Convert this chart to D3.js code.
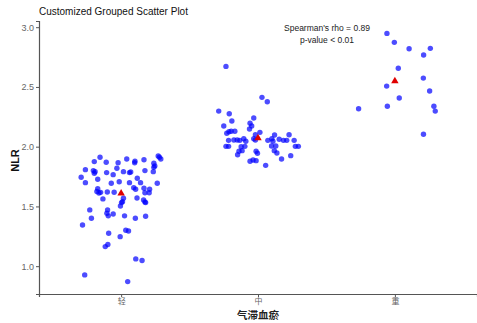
<!DOCTYPE html>
<html>
<head>
<meta charset="utf-8">
<script src="https://cdn.jsdelivr.net/npm/d3@7"></script>
<style>
body { margin: 0; background: #fff; }
svg { display: block; font-family: "Liberation Sans", Arial, sans-serif; }
</style>
</head>
<body>
<div id="chart"></div>
<script>
var width = 477
var height = 323
var margin = {top: 21, right: 0, bottom: 29, left: 39}

var categories = ['轻', '中', '重']
var y_ticks = [1.0, 1.5, 2.0, 2.5, 3.0]

// jitter offset (in category units) and NLR value
var jitter_light = [-0.154,-0.292,-0.261,-0.261,-0.196,-0.203,-0.196,-0.190,-0.171,-0.171,-0.177,-0.162,-0.150,-0.133,-0.109,-0.106,-0.101,-0.072,-0.058,-0.051,-0.031,-0.022,-0.014,0.017,0.041,0.061,0.070,0.061,0.099,0.101,0.092,0.106,0.118,0.142,0.167,0.174,0.167,0.174,0.208,0.205,0.239,0.246,0.239,0.235,0.271,0.280,0.290,0.264,0.116,0.164,0.174,0.179,0.017,0.003,-0.005,-0.099,-0.058,-0.094,-0.229,-0.217,-0.282,0.025,0.104,0.179,0.034,0.054,-0.091,-0.007,-0.116,-0.097,0.107,0.153,-0.266,0.048,-0.104,0.010]
var nlr_light = [1.911,1.744,1.808,1.699,1.875,1.800,1.778,1.790,1.728,1.649,1.625,1.612,1.618,1.563,1.870,1.783,1.621,1.694,1.766,1.619,1.819,1.866,1.707,1.791,1.897,1.783,1.788,1.699,1.866,1.878,1.657,1.644,1.736,1.699,1.891,1.800,1.652,1.615,1.644,1.615,1.861,1.839,1.828,1.791,1.922,1.911,1.897,1.694,1.571,1.554,1.538,1.532,1.569,1.532,1.504,1.471,1.437,1.421,1.471,1.401,1.345,1.421,1.401,1.418,1.301,1.295,1.276,1.247,1.164,1.181,1.061,1.047,0.927,0.871,1.443,1.540]

var jitter_mid = [-0.234,0.029,0.068,-0.287,-0.210,-0.191,-0.031,-0.058,-0.046,-0.062,-0.250,-0.212,-0.228,-0.196,-0.169,0.014,-0.019,0.121,0.227,-0.215,-0.176,-0.152,-0.133,-0.104,-0.089,-0.031,-0.019,0.072,0.101,0.109,0.155,0.186,0.210,0.264,-0.234,-0.215,-0.096,0.099,0.130,0.273,0.295,-0.139,-0.116,-0.014,-0.004,-0.149,0.119,0.138,0.172,0.239,-0.036,-0.058,-0.014,0.056,-0.123]
var nlr_mid = [2.672,2.413,2.376,2.298,2.276,2.215,2.240,2.196,2.173,2.148,2.173,2.125,2.112,2.129,2.129,2.120,2.100,2.098,2.100,2.053,2.056,2.056,2.053,2.067,2.045,2.067,2.056,2.053,2.067,2.045,2.062,2.053,2.053,2.053,2.003,2.003,2.003,2.006,2.006,2.003,2.003,1.962,1.967,1.962,1.945,1.933,1.967,1.947,1.897,1.925,1.889,1.878,1.883,1.844,2.000]

var jitter_heavy = [-0.058,-0.004,0.104,0.259,0.210,0.025,0.208,-0.060,0.254,0.032,-0.265,-0.055,0.285,0.295,0.209]
var nlr_heavy = [2.948,2.873,2.819,2.823,2.767,2.656,2.574,2.507,2.466,2.407,2.318,2.338,2.338,2.298,2.104]

var groups = [
  {cat: '轻', jitter: jitter_light, nlr: nlr_light},
  {cat: '中', jitter: jitter_mid, nlr: nlr_mid},
  {cat: '重', jitter: jitter_heavy, nlr: nlr_heavy}
]

var points = []
groups.forEach(function(g) {
  g.nlr.forEach(function(v, i) {
    points.push({cat: g.cat, jitter: g.jitter[i], value: v})
  })
})

var means = groups.map(function(g) {
  return {cat: g.cat, value: d3.mean(g.nlr)}
})

var svg = d3.select('#chart')
  .append('svg')
  .attr('width', width)
  .attr('height', height)

// ggplot style expansion: 5% on y, 0.6 on discrete x
var y_min = d3.min(points, function(d) { return d.value })
var y_max = d3.max(points, function(d) { return d.value })
var y_pad = (y_max - y_min) * 0.05

var y = d3.scaleLinear()
  .domain([y_min - y_pad, y_max + y_pad])
  .range([height - margin.bottom, margin.top])

var x_pos = d3.scaleLinear()
  .domain([-0.6, categories.length - 1 + 0.6])
  .range([margin.left, width - margin.right])

function x(cat, off) { return x_pos(categories.indexOf(cat) + (off || 0)) }

// title
svg.append('text')
  .attr('x', margin.left)
  .attr('y', 15)
  .text('Customized Grouped Scatter Plot')
  .style('font-size', '10px')
  .attr('fill', '#111')

// axes
var y_axis = svg.append('g')
  .attr('transform', 'translate(' + margin.left + ',0)')
  .call(d3.axisLeft(y).tickValues(y_ticks).tickFormat(d3.format('.1f')).tickSize(3).tickPadding(2))

var x_axis = svg.append('g')
  .attr('transform', 'translate(0,' + (height - margin.bottom) + ')')
  .call(d3.axisBottom(x_pos).tickValues(d3.range(categories.length))
    .tickFormat(function(i) { return categories[i] }).tickSize(3).tickPadding(1))

;[y_axis, x_axis].forEach(function(a) {
  a.select('.domain').attr('stroke', '#555').attr('stroke-width', 1.2)
  a.selectAll('.tick line').attr('stroke', '#555')
  a.selectAll('.tick text').attr('fill', '#666').style('font-size', '9px')
})
x_axis.selectAll('.tick text')
  .style('font-family', '"Noto Sans CJK SC", sans-serif')
  .style('font-size', '8px')

// points
svg.append('g')
  .selectAll('circle')
  .data(points)
  .enter()
  .append('circle')
  .attr('cx', function(d) { return x(d.cat, d.jitter) })
  .attr('cy', function(d) { return y(d.value) })
  .attr('r', 2.7)
  .attr('fill', '#0000ff')
  .attr('fill-opacity', 0.7)

// group means
svg.append('g')
  .selectAll('path')
  .data(means)
  .enter()
  .append('path')
  .attr('d', d3.symbol().type(d3.symbolTriangle).size(24))
  .attr('transform', function(d) { return 'translate(' + x(d.cat) + ',' + y(d.value) + ')' })
  .attr('fill', '#e00000')

// annotation
svg.append('text')
  .attr('x', 327)
  .attr('y', 31)
  .attr('text-anchor', 'middle')
  .text("Spearman's rho = 0.89")
  .style('font-size', '8.5px')
  .attr('fill', '#222')

svg.append('text')
  .attr('x', 327)
  .attr('y', 43)
  .attr('text-anchor', 'middle')
  .text('p-value < 0.01')
  .style('font-size', '8.5px')
  .attr('fill', '#222')

// axis titles
svg.append('text')
  .attr('transform', 'translate(19,' + ((margin.top + height - margin.bottom) / 2 + 3) + ') rotate(-90)')
  .attr('text-anchor', 'middle')
  .text('NLR')
  .style('font-size', '11px')
  .style('font-weight', 'bold')
  .attr('fill', '#111')

svg.append('text')
  .attr('x', x('中'))
  .attr('y', 319)
  .attr('text-anchor', 'middle')
  .text('气滞血瘀')
  .style('font-size', '10.5px')
  .style('font-weight', 'bold')
  .style('font-family', '"Noto Sans CJK SC", sans-serif')
  .attr('fill', '#222')
</script>
</body>
</html>
